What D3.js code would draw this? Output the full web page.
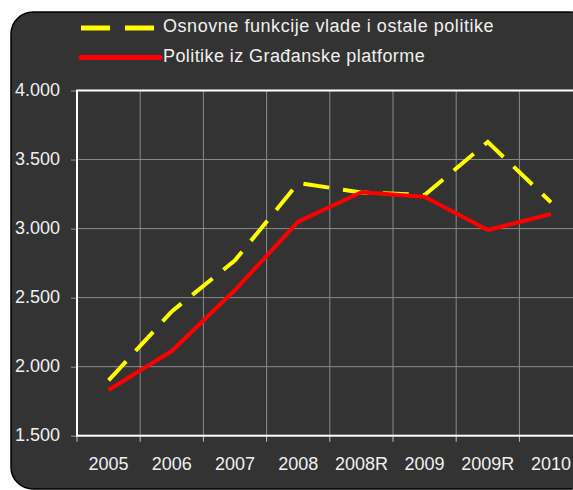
<!DOCTYPE html>
<html><head><meta charset="utf-8">
<script src="https://cdn.jsdelivr.net/npm/d3@7"></script>
<style>body{margin:0;background:#fff;overflow:hidden}svg{display:block}</style>
</head><body>
<svg id="chart" width="573" height="490"></svg>
<script>
const categories = ["2005","2006","2007","2008","2008R","2009","2009R","2010"];
const osnovneFunkcije = [1900, 2400, 2770, 3330, 3262, 3243, 3627, 3190];
const gradjanskaPlatforma = [1831, 2113, 2555, 3050, 3263, 3230, 2990, 3106];
const yTickValues = [1500, 2000, 2500, 3000, 3500, 4000];
const seriesNames = ["Osnovne funkcije vlade i ostale politike", "Politike iz Građanske platforme"];

const svg = d3.select("#chart");
const fmt = d3.formatLocale({decimal: ",", thousands: ".", grouping: [3], currency: ["", ""]}).format(",.0f");
const font = "'Liberation Sans', Arial, sans-serif";
const textColor = "#f0f0f0";

// background panel
svg.append("rect").attr("x", 11).attr("y", 12).attr("width", 580).attr("height", 477)
  .attr("rx", 22).attr("fill", "#333333").attr("stroke", "#000").attr("stroke-width", 1.5);

const plotLeft = 77, plotTop = 90.5, plotBottom = 435.7, band = 63.2;
const x = d3.scaleBand().domain(categories).range([plotLeft, plotLeft + band * categories.length]);
const y = d3.scaleLinear().domain([1500, 4000]).range([plotBottom, plotTop]);

const g = svg.append("g");
g.selectAll(".hg").data(yTickValues.slice(1, -1)).join("line")
  .attr("x1", plotLeft).attr("x2", 600).attr("y1", d => y(d)).attr("y2", d => y(d))
  .attr("stroke", "#8a8a8a").attr("stroke-width", 1);
g.selectAll(".vg").data(categories.slice(1)).join("line")
  .attr("x1", d => x(d)).attr("x2", d => x(d)).attr("y1", plotTop).attr("y2", plotBottom)
  .attr("stroke", "#8a8a8a").attr("stroke-width", 1);

const yAxis = d3.axisLeft(y).tickValues(yTickValues).tickFormat(fmt).tickSize(6).tickPadding(11);
const ya = svg.append("g").attr("transform", `translate(${plotLeft},0)`).call(yAxis);
ya.select(".domain").remove();
ya.selectAll(".tick line").attr("stroke", "#9a9a9a");
ya.selectAll("text").attr("fill", textColor).attr("font-family", font).attr("font-size", 18).attr("dy", "0.26em");

const xAxis = d3.axisBottom(x).tickSize(0).tickPadding(22);
const xa = svg.append("g").attr("transform", `translate(0,${plotBottom})`).call(xAxis);
xa.select(".domain").remove();
xa.selectAll("text").attr("fill", textColor).attr("font-family", font).attr("font-size", 18);
svg.append("g").selectAll("line").data(categories).join("line")
  .attr("x1", d => x(d)).attr("x2", d => x(d)).attr("y1", plotBottom).attr("y2", plotBottom + 6)
  .attr("stroke", "#c8c8c8");

svg.append("rect").attr("x", plotLeft).attr("y", plotTop).attr("width", 600).attr("height", plotBottom - plotTop)
  .attr("fill", "none").attr("stroke", "#ffffff").attr("stroke-width", 2);

const line = d3.line().x((d, i) => x(categories[i]) + x.bandwidth() / 2).y(d => y(d));
svg.append("path").datum(osnovneFunkcije).attr("d", line).attr("fill", "none")
  .attr("stroke", "#ffff00").attr("stroke-width", 4).attr("stroke-dasharray", "26,14");
svg.append("path").datum(gradjanskaPlatforma).attr("d", line).attr("fill", "none")
  .attr("stroke", "#ff0000").attr("stroke-width", 4).attr("stroke-linejoin", "round");

const leg = svg.append("g");
leg.append("line").attr("x1", 81).attr("x2", 154).attr("y1", 28).attr("y2", 28)
  .attr("stroke", "#ffff00").attr("stroke-width", 5).attr("stroke-dasharray", "29,15");
leg.append("text").attr("x", 163).attr("y", 32).text(seriesNames[0])
  .attr("fill", textColor).attr("font-family", font).attr("font-size", 18).attr("letter-spacing", 0.55);
leg.append("line").attr("x1", 81).attr("x2", 160).attr("y1", 57.5).attr("y2", 57.5)
  .attr("stroke", "#ff0000").attr("stroke-width", 5).attr("stroke-linecap", "round");
leg.append("text").attr("x", 163).attr("y", 61.5).text(seriesNames[1])
  .attr("fill", textColor).attr("font-family", font).attr("font-size", 18).attr("letter-spacing", 0.42);
</script>
</body></html>
